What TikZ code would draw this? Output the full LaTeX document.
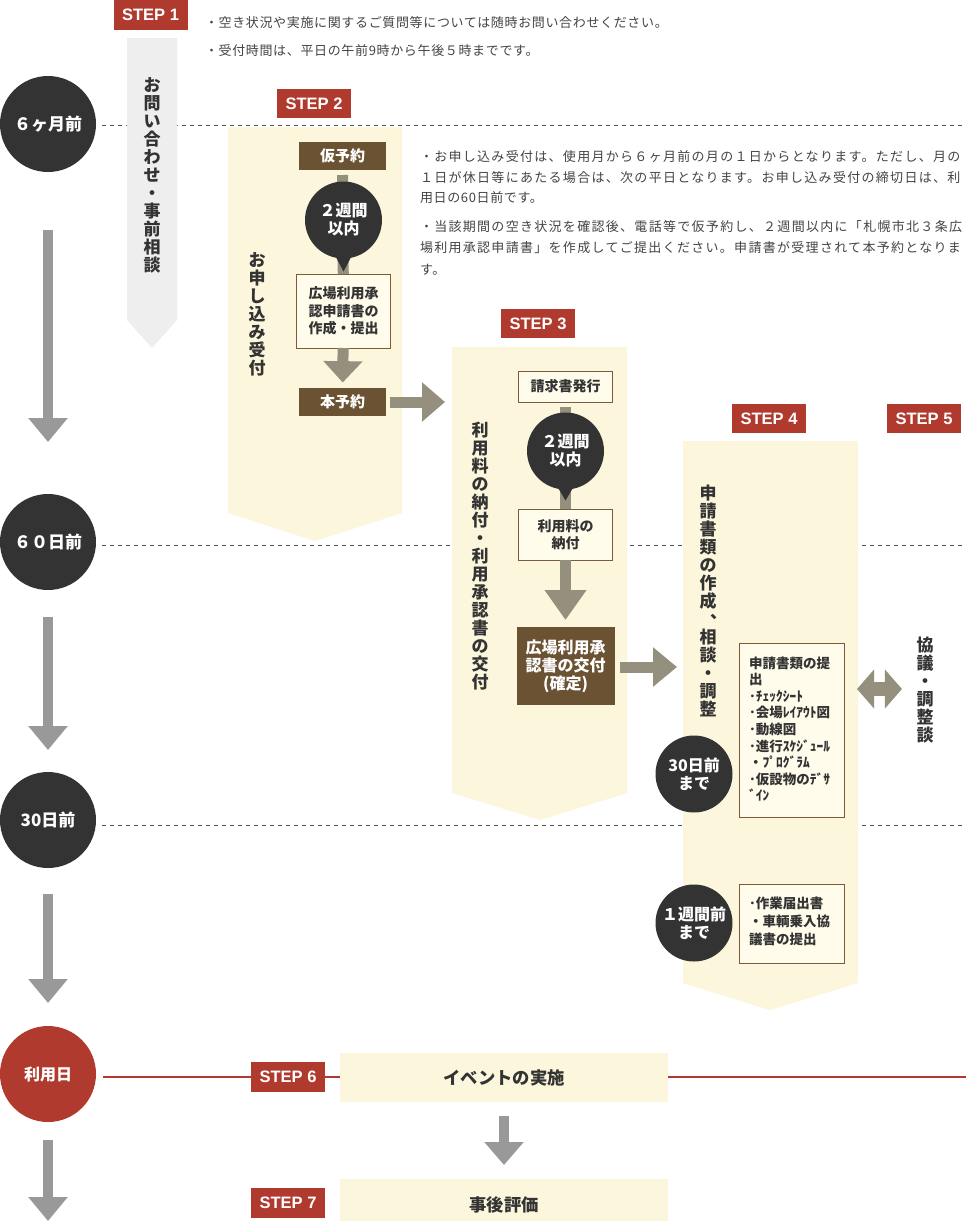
\documentclass[tikz,border=0pt]{standalone}
\usepackage{fontspec}
\setmainfont{Noto Sans CJK JP}
\newfontfamily\notefont{Noto Sans CJK JP}[LetterSpace=5]
\newfontfamily\justfont{Noto Sans CJK JP}[LetterSpace=10]
\newfontfamily\stepfont{Liberation Sans}
\usetikzlibrary{arrows.meta,calc}
\definecolor{stepred}{HTML}{B03A2E}
\definecolor{darkc}{HTML}{333333}
\definecolor{brownc}{HTML}{6B5233}
\definecolor{creamc}{HTML}{FBF6DC}
\definecolor{boxfill}{HTML}{FFFCEC}
\definecolor{boxline}{HTML}{7A5C3C}
\definecolor{garr}{HTML}{958F7E}
\definecolor{tlgray}{HTML}{999999}
\definecolor{lgray}{HTML}{EEEEEE}
\definecolor{textc}{HTML}{333333}
\definecolor{notec}{HTML}{444444}
\definecolor{dashc}{HTML}{555555}
\newcommand\vcomma{\makebox[1em][l]{\hspace{0.62em}\raisebox{0.42em}{、}}}
\begin{document}
\begin{tikzpicture}[x=0.75pt,y=-0.75pt,
  every node/.style={inner sep=0pt,outer sep=0pt,text=textc},
  badge/.style={fill=stepred,text=white,minimum width=55.5pt,minimum height=22pt,font=\stepfont\bfseries\fontsize{12.4}{14}\selectfont},
  tcirc/.style={circle,fill=darkc,minimum size=72pt,text=white,font=\bfseries\fontsize{12.75}{15}\selectfont},
  scirc/.style={circle,fill=darkc,minimum size=57.75pt,text=white,align=center,font=\bfseries\fontsize{12}{13.5}\selectfont},
  brownbox/.style={fill=brownc,text=white,align=center},
  wbox/.style={draw=boxline,line width=0.75pt,fill=boxfill,align=center,font=\bfseries\fontsize{10.5}{13}\selectfont},
  vtext/.style={anchor=north,align=center,font=\bfseries\fontsize{12.75}{13.5}\selectfont},
  note/.style={anchor=west,text=notec,font=\notefont\fontsize{9.75}{12}\selectfont},
  jnote/.style={anchor=west,text=notec,font=\justfont\fontsize{9.75}{12}\selectfont},
  listtext/.style={anchor=west,align=left,font=\bfseries\fontsize{10.125}{12.45}\selectfont},
  tlarrow/.style={draw=tlgray,line width=7.5pt,-{Triangle[width=28.5pt,length=18pt]}},
  garrow/.style={draw=garr,line width=8.25pt},
  dashline/.style={draw=dashc,line width=0.75pt,dash pattern=on 3pt off 3pt},
  redline/.style={draw=stepred,line width=1.5pt},
  ptr/.style={fill=darkc}]

\fill[white] (0,0) rectangle (966,1221);
\useasboundingbox (0,0) rectangle (966,1221);

% timeline
\node[tcirc] (m6) at (48,124) {６ヶ月前};
\node[tcirc] (d60) at (48,542) {６０日前};
\node[tcirc] (d30) at (48,820) {30日前};
\node[tcirc,fill=stepred,font=\bfseries\fontsize{12}{14}\selectfont] (riyo) at (48,1074) {利用日};
\coordinate (r6) at (966,125);
\coordinate (r60) at (966,545);
\coordinate (r30) at (966,825);
\coordinate (rr) at (966,1077);
\coordinate (tlend) at (48,1221);
\draw[dashline,shorten <=4.5pt] (m6.east |- r6) -- (r6);
\draw[dashline,shorten <=4.5pt] (d60.east |- r60) -- (r60);
\draw[dashline,shorten <=4.5pt] (d30.east |- r30) -- (r30);
\draw[tlarrow,shorten <=43.5pt,shorten >=39pt] (m6) -- (d60);
\draw[tlarrow,shorten <=20.25pt,shorten >=16.5pt] (d60) -- (d30);
\draw[tlarrow,shorten <=19.5pt,shorten >=17.25pt] (d30) -- (riyo);
\draw[tlarrow,shorten <=13.5pt] (riyo) -- (tlend);

% STEP 1
\node[badge] (s1) at (150.5,15) {STEP 1};
\fill[lgray] (127,38) -- (177,38) -- (177,320) -- (152,348) -- (127,320) -- cycle;
\node[vtext] (s1t) at (152,78) {お\\問\\い\\合\\わ\\せ\\・\\事\\前\\相\\談};
\node[note] (n1) at (205,23) {・空き状況や実施に関するご質問等については随時お問い合わせください。};
\node[note] (n2) at (205,51) {・受付時間は、平日の午前9時から午後５時までです。};

% STEP 2
\node[badge] (s2) at (314,103.5) {STEP 2};
\fill[creamc] (228,127) -- (402,127) -- (402,513) -- (315,541) -- (228,513) -- cycle;
\node[vtext] (s2t) at (257,253) {お\\申\\し\\込\\み\\受\\付};
\node[brownbox,minimum width=65.25pt,minimum height=21pt,font=\bfseries\fontsize{11.25}{13}\selectfont] (kari) at (342.5,156) {仮予約};
\node[brownbox,minimum width=65.25pt,minimum height=21pt,font=\bfseries\fontsize{11.25}{13}\selectfont] (hon) at (342.5,401.5) {本予約};
\node[wbox,minimum width=70.5pt,minimum height=55.5pt] (app) at (343.5,311) {広場利用承\\認申請書の\\作成・提出};
\draw[garrow,shorten <=3.75pt] (kari) -- (app);
\node[scirc] (b2) at (343.5,220) {２週間\\以内};
\fill[ptr] ($(b2.south)+(-10,-6)$) -- ($(b2.south)+(10,-6)$) -- ($(b2.south)+(0,13)$) -- cycle;
\draw[garrow,-{Triangle[width=28.5pt,length=16pt]},shorten >=3.75pt] (app) -- (hon);
\coordinate (s3w) at (452,402);
\draw[garrow,-{Triangle[width=28.5pt,length=17.25pt]},shorten <=3pt,shorten >=5.25pt] (hon.east |- s3w) -- (s3w);

\node[jnote] (p1) at (420,157) {・お申し込み受付は、使用月から６ヶ月前の月の１日からとなります。ただし、月の};
\node[jnote] (p2) at (420,178) {１日が休日等にあたる場合は、次の平日となります。お申し込み受付の締切日は、利};
\node[note] (p3) at (420,198) {用日の60日前です。};
\node[jnote] (p4) at (420,227) {・当該期間の空き状況を確認後、電話等で仮予約し、２週間以内に「札幌市北３条広};
\node[jnote] (p5) at (420,248) {場利用承認申請書」を作成してご提出ください。申請書が受理されて本予約となりま};
\node[note] (p6) at (420,270) {す。};

% STEP 3
\node[badge] (s3) at (538,323.5) {STEP 3};
\fill[creamc] (452,347) -- (627,347) -- (627,793) -- (540,820) -- (452,793) -- cycle;
\node[vtext] (s3t) at (480,422) {利\\用\\料\\の\\納\\付\\・\\利\\用\\承\\認\\書\\の\\交\\付};
\node[wbox,minimum width=70.5pt,minimum height=23.25pt] (req) at (565.5,386.5) {請求書発行};
\node[wbox,minimum width=70.5pt,minimum height=38.25pt] (ryo) at (565.5,534.5) {利用料の\\納付};
\node[brownbox,minimum width=73.5pt,minimum height=58.5pt,font=\bfseries\fontsize{12}{13.5}\selectfont] (kak) at (565.5,666) {広場利用承\\認書の交付\\(確定)};
\draw[garrow,shorten <=3.75pt] (req) -- (ryo);
\node[scirc] (b3) at (565.5,451) {２週間\\以内};
\fill[ptr] ($(b3.south)+(-10,-6)$) -- ($(b3.south)+(10,-6)$) -- ($(b3.south)+(0,11)$) -- cycle;
\draw[garrow,-{Triangle[width=30pt,length=22.5pt]},shorten >=5.25pt] (ryo) -- (kak);
\coordinate (s4w) at (683,667);
\draw[garrow,-{Triangle[width=28.5pt,length=18pt]},shorten <=3.75pt,shorten >=4.5pt] (kak.east |- s4w) -- (s4w);

% STEP 4 / 5
\node[badge] (s4) at (769,418.5) {STEP 4};
\node[badge] (s5) at (924,418.5) {STEP 5};
\fill[creamc] (683,441) -- (858,441) -- (858,983) -- (770,1010) -- (683,983) -- cycle;
\node[vtext] (s4t) at (708,485) {申\\請\\書\\類\\の\\作\\成\\\vcomma\\相\\談\\・\\調\\整};
\node[wbox,minimum width=78.75pt,minimum height=130.5pt] (sub) at (791.5,730) {};
\node[listtext] (subt) at (749,729) {申請書類の提\\出\\･ﾁｪｯｸｼｰﾄ\\･会場ﾚｲｱｳﾄ図\\･動線図\\･進行ｽｹｼﾞｭｰﾙ\\・ﾌﾟﾛｸﾞﾗﾑ\\･仮設物のﾃﾞｻ\\ﾞｲﾝ};
\node[scirc] (b30) at (694,774) {30日前\\まで};
\node[wbox,minimum width=78.75pt,minimum height=59.25pt] (wk) at (791.5,923.5) {};
\node[listtext,font=\bfseries\fontsize{10.125}{13.5}\selectfont] (wkt) at (749,921) {･作業届出書\\・車輌乗入協\\議書の提出};
\node[scirc] (b1w) at (694,923) {１週間前\\まで};
\node[vtext] (kyo) at (925,637) {協\\議\\・\\調\\整\\談};
\coordinate (s4e) at (857,689);
\draw[garrow,line width=10.5pt,{Triangle[width=28.5pt,length=12.75pt]}-{Triangle[width=28.5pt,length=12.75pt]},shorten >=10.9pt] (s4e) -- (s4e -| kyo.west);

% STEP 6 / 7
\node[badge] (s6) at (288,1077) {STEP 6};
\node[fill=creamc,minimum width=246pt,minimum height=36.75pt,font=\bfseries\fontsize{13}{15}\selectfont] (ev) at (504,1077.5) {イベントの実施};
\draw[redline,shorten <=5.25pt] (riyo.east |- rr) -- (s6.west |- rr);
\draw[redline] (s6.east |- rr) -- (ev.west |- rr);
\draw[redline] (ev.east |- rr) -- (rr);
\node[badge] (s7) at (288,1203) {STEP 7};
\node[fill=creamc,minimum width=246pt,minimum height=38.25pt,font=\bfseries\fontsize{13}{15}\selectfont] (hy) at (504,1204.5) {事後評価};
\draw[tlarrow,-{Triangle[width=28.5pt,length=17.25pt]},shorten <=10.5pt,shorten >=10.5pt] (ev) -- (hy);
\end{tikzpicture}
\end{document}
